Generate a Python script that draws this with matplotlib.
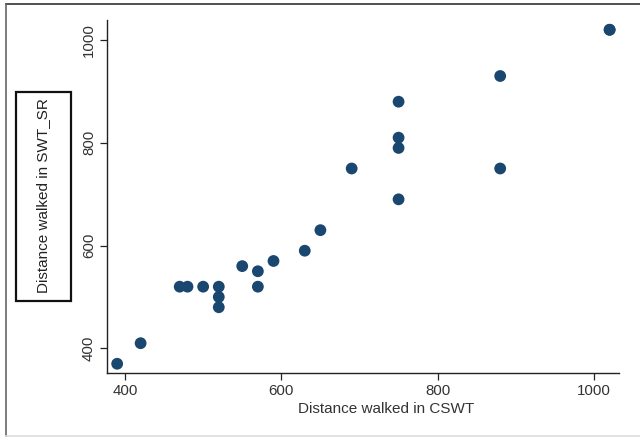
import numpy as np
import matplotlib
matplotlib.use("Agg")
import matplotlib.pyplot as plt
from matplotlib.patches import Rectangle
from matplotlib.lines import Line2D

plt.rcParams['font.family'] = ['Liberation Sans', 'DejaVu Sans']

# distance walked (m)
cswt = [390, 420, 470, 480, 500, 520, 520, 520, 550, 570, 570, 590, 630,
        650, 690, 750, 750, 750, 750, 880, 880, 1020, 1020]
swt_sr = [370, 410, 520, 520, 520, 520, 500, 480, 560, 550, 520, 570, 590,
          630, 750, 880, 810, 790, 690, 930, 750, 1020, 1020]

navy = "#1a476f"
fig = plt.figure(figsize=(6.4, 4.37), dpi=100)
W, H = 640, 437
ax = fig.add_axes([107 / W, 1 - 373 / H, (619 - 107) / W, (373 - 20) / H])

ax.scatter(cswt, swt_sr, s=72, color=navy, edgecolors="none", zorder=3)
ax.set_xlim(377, 1032)
ax.set_ylim(352, 1039)
ax.set_xticks([400, 600, 800, 1000])
ax.set_yticks([400, 600, 800, 1000])
for sp in ("top", "right"):
    ax.spines[sp].set_visible(False)
for sp in ("left", "bottom"):
    ax.spines[sp].set_color("#222222")
    ax.spines[sp].set_linewidth(1.0)
ax.tick_params(direction="out", length=5, width=0.9, color="#222222",
               labelsize=10.8, labelcolor="#333333", pad=3)
plt.setp(ax.get_yticklabels(), rotation=90, va="center")

fig.text(386 / W, 1 - 409 / H, "Distance walked in CSWT", ha="center",
         va="center", fontsize=11, color="#333333")
fig.text(43 / W, 1 - 196 / H, "Distance walked in SWT_SR", rotation=90,
         ha="center", va="center", fontsize=11, color="#222222")
fig.patches.append(Rectangle((16 / W, 1 - 301 / H), (71 - 16) / W, (301 - 92) / H,
                             transform=fig.transFigure, fill=False,
                             edgecolor="#111111", lw=1.6))

# outer frame
fig.lines.append(Line2D([6 / W, 1], [1 - 4 / H, 1 - 4 / H], transform=fig.transFigure,
                        color="#333333", lw=1.2))
fig.lines.append(Line2D([6 / W, 6 / W], [1 - 4 / H, 1 - 436 / H], transform=fig.transFigure,
                        color="#666666", lw=1.2))
fig.lines.append(Line2D([6 / W, 1], [1 - 436 / H, 1 - 436 / H], transform=fig.transFigure,
                        color="#dddddd", lw=1.2))

fig.savefig("out.png", dpi=100)
